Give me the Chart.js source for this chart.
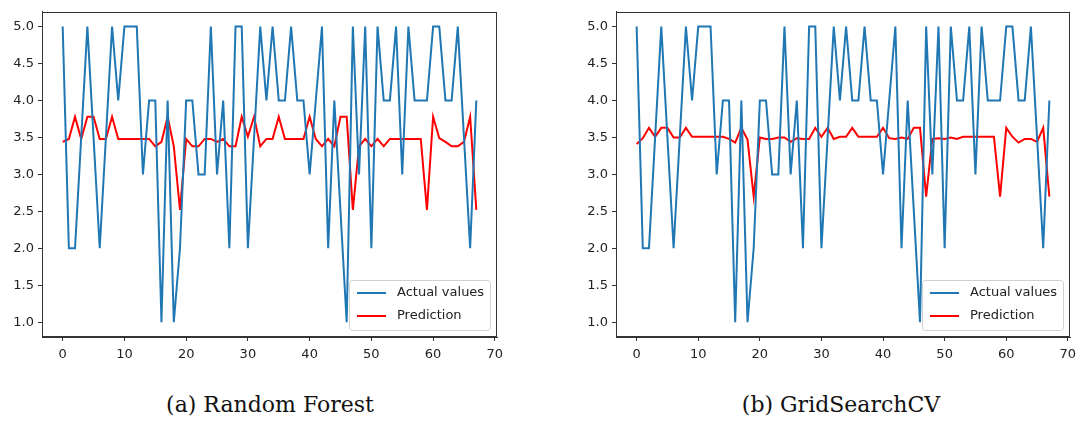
<!DOCTYPE html>
<html>
<head>
<meta charset="utf-8">
<script src="https://cdn.jsdelivr.net/npm/chart.js@4/dist/chart.umd.min.js"></script>
<style>
    body { margin: 0; background: #fff; width: 1079px; height: 425px; overflow: hidden; position: relative; }
    canvas { position: absolute; top: 0; }
    #rfChart { left: 0; }
    #gsChart { left: 574px; }
    .caption { position: absolute; top: 392px; font-family: "DejaVu Serif", serif; font-size: 22px; color: #111; text-align: center; width: 400px; }
</style>
</head>
<body>
<canvas id="rfChart" width="520" height="370"></canvas>
<canvas id="gsChart" width="505" height="370"></canvas>
<div class="caption" style="left: 70px;">(a) Random Forest</div>
<div class="caption" style="left: 641px;">(b) GridSearchCV</div>
<script>
// --- Data ---
const xTicks = [0, 10, 20, 30, 40, 50, 60, 70];
const yTicks = [1.0, 1.5, 2.0, 2.5, 3.0, 3.5, 4.0, 4.5, 5.0];

const actualValues = [
    5, 2, 2, 3.5, 5, 3.5, 2, 3.5, 5, 4,
    5, 5, 5, 3, 4, 4, 1, 4, 1, 2,
    4, 4, 3, 3, 5, 3, 4, 2, 5, 5,
    2, 3.5, 5, 4, 5, 4, 4, 5, 4, 4,
    3, 4, 5, 2, 4, 2.5, 1, 5, 3, 5,
    2, 5, 4, 4, 5, 3, 5, 4, 4, 4,
    5, 5, 4, 4, 5, 3.5, 2, 4
];

const rfPrediction = [
    3.44, 3.48, 3.78, 3.48, 3.78, 3.78, 3.48, 3.48, 3.78, 3.48,
    3.48, 3.48, 3.48, 3.48, 3.48, 3.38, 3.44, 3.78, 3.38, 2.52,
    3.48, 3.38, 3.38, 3.48, 3.48, 3.44, 3.48, 3.38, 3.38, 3.78,
    3.51, 3.78, 3.38, 3.48, 3.48, 3.78, 3.48, 3.48, 3.48, 3.48,
    3.78, 3.48, 3.38, 3.48, 3.38, 3.78, 3.78, 2.52, 3.38, 3.48,
    3.38, 3.48, 3.38, 3.48, 3.48, 3.48, 3.48, 3.48, 3.48, 2.52,
    3.78, 3.49, 3.44, 3.38, 3.38, 3.44, 3.78, 2.52
];

const gsPrediction = [
    3.41, 3.49, 3.63, 3.51, 3.63, 3.63, 3.50, 3.50, 3.63, 3.51,
    3.51, 3.51, 3.51, 3.51, 3.51, 3.48, 3.43, 3.63, 3.47, 2.70,
    3.50, 3.48, 3.48, 3.50, 3.50, 3.44, 3.49, 3.48, 3.48, 3.63,
    3.51, 3.63, 3.48, 3.51, 3.51, 3.63, 3.51, 3.51, 3.51, 3.51,
    3.63, 3.49, 3.48, 3.50, 3.48, 3.63, 3.63, 2.70, 3.48, 3.49,
    3.48, 3.50, 3.48, 3.51, 3.51, 3.51, 3.51, 3.51, 3.51, 2.70,
    3.63, 3.51, 3.43, 3.48, 3.48, 3.44, 3.63, 2.70
];

(function () {
    const AXIS_COLOR = '#333';
    const TEXT_COLOR = '#222';
    const TICK_FONT = { family: 'DejaVu Sans', size: 13 };

    function toPoints(values) {
        return values.map((v, i) => ({ x: i, y: v }));
    }

    // --- Plugins: matplotlib style frame and legend box ---
    const framePlugin = {
        id: 'frame',
        afterDraw(chart) {
            const { ctx, chartArea: a } = chart;
            ctx.save();
            ctx.strokeStyle = AXIS_COLOR;
            ctx.lineWidth = 1;
            ctx.strokeRect(Math.round(a.left) + 0.5, Math.round(a.top) + 0.5,
                Math.round(a.right - a.left) - 1, Math.round(a.bottom - a.top) - 1);
            ctx.restore();
        }
    };

    const legendBoxPlugin = {
        id: 'legendBox',
        afterDatasetsDraw(chart) {
            const { ctx, chartArea: a } = chart;
            const w = 141, h = 50;
            const x = a.right - 7 - w, y = a.bottom - 7 - h;
            ctx.save();
            ctx.fillStyle = 'rgba(255,255,255,0.8)';
            ctx.strokeStyle = '#d0d0d0';
            ctx.lineWidth = 1;
            ctx.beginPath();
            ctx.roundRect(x + 0.5, y + 0.5, w, h, 3);
            ctx.fill();
            ctx.stroke();
            ctx.font = '13px "DejaVu Sans"';
            ctx.textBaseline = 'middle';
            chart.data.datasets.forEach((ds, i) => {
                const ly = y + 13 + i * 23;
                ctx.strokeStyle = ds.borderColor;
                ctx.lineWidth = 2;
                ctx.beginPath();
                ctx.moveTo(x + 8, ly);
                ctx.lineTo(x + 37, ly);
                ctx.stroke();
                ctx.fillStyle = TEXT_COLOR;
                ctx.fillText(ds.label, x + 48, ly);
            });
            ctx.restore();
        }
    };

    // --- Chart Rendering ---
    function renderChart(canvasId, prediction, rightPad) {
        const ctx = document.getElementById(canvasId).getContext('2d');
        return new Chart(ctx, {
            type: 'line',
            data: {
                datasets: [
                    { label: 'Actual values', data: toPoints(actualValues), borderColor: '#1f77b4', borderWidth: 2, pointRadius: 0, tension: 0 },
                    { label: 'Prediction', data: toPoints(prediction), borderColor: '#ff0000', borderWidth: 2, pointRadius: 0, tension: 0 }
                ]
            },
            options: {
                responsive: false,
                animation: false,
                devicePixelRatio: 1,
                layout: { padding: { left: 0, top: 6, right: rightPad, bottom: 0 } },
                plugins: { legend: { display: false }, tooltip: { enabled: false } },
                scales: {
                    x: {
                        type: 'linear',
                        min: -3.35,
                        max: 70.35,
                        afterBuildTicks: s => { s.ticks = xTicks.map(v => ({ value: v })); },
                        afterFit: s => { s.height = 33; s.paddingRight = 0; },
                        ticks: { font: TICK_FONT, color: TEXT_COLOR, padding: 6, maxRotation: 0, autoSkip: false },
                        grid: { drawOnChartArea: false, drawTicks: true, tickLength: 4, color: AXIS_COLOR },
                        border: { display: true, color: AXIS_COLOR }
                    },
                    y: {
                        min: 0.8,
                        max: 5.2,
                        afterBuildTicks: s => { s.ticks = yTicks.map(v => ({ value: v })); },
                        afterFit: s => { s.width = 42; },
                        ticks: { font: TICK_FONT, color: TEXT_COLOR, padding: 4, callback: v => Number(v).toFixed(1) },
                        grid: { drawOnChartArea: false, drawTicks: true, tickLength: 4, color: AXIS_COLOR },
                        border: { display: true, color: AXIS_COLOR }
                    }
                }
            },
            plugins: [legendBoxPlugin, framePlugin]
        });
    }

    renderChart('rfChart', rfPrediction, 23);
    renderChart('gsChart', gsPrediction, 9);
})();
</script>
</body>
</html>
